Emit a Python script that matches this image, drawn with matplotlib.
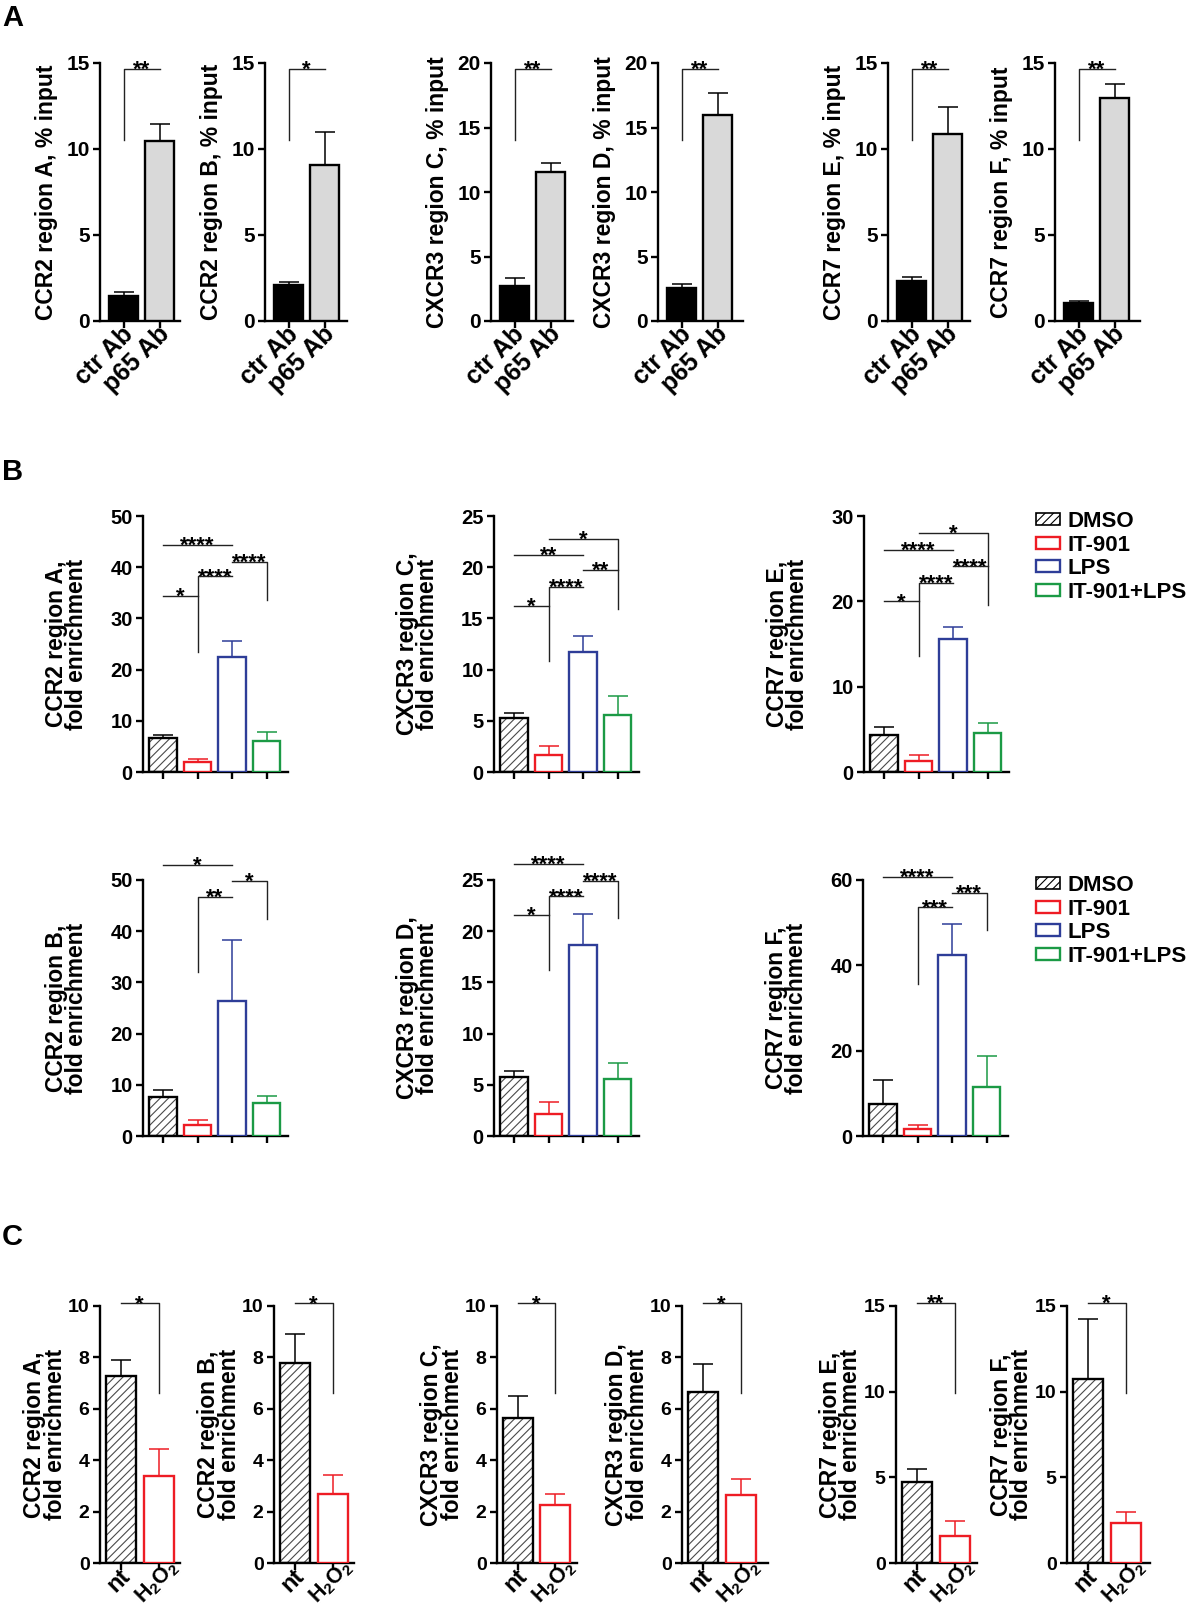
import numpy as np
import matplotlib
matplotlib.use("Agg")
import matplotlib.pyplot as plt
import matplotlib.transforms as mtransforms
from matplotlib.patches import Patch

plt.rcParams['font.family'] = ['Liberation Sans', 'DejaVu Sans']
plt.rcParams['font.weight'] = 'bold'
plt.rcParams['axes.labelweight'] = 'bold'
plt.rcParams['hatch.linewidth'] = 0.8
plt.rcParams['mathtext.fontset'] = 'custom'
plt.rcParams['mathtext.rm'] = 'Liberation Sans:bold'
plt.rcParams['mathtext.default'] = 'rm'

# ---------------- data ----------------
# panel A: ChIP % input
a_groups = ["ctr Ab", "p65 Ab"]
a_labels = ["CCR2 region A, % input", "CCR2 region B, % input",
            "CXCR3 region C, % input", "CXCR3 region D, % input",
            "CCR7 region E, % input", "CCR7 region F, % input"]
a_means = [[1.44, 10.49], [2.08, 9.09], [2.69, 11.53],
           [2.56, 15.98], [2.31, 10.88], [1.05, 12.98]]
a_err = [[0.23, 0.97], [0.19, 1.87], [0.68, 0.75],
         [0.34, 1.66], [0.22, 1.56], [0.12, 0.82]]
a_ymax = [15, 15, 20, 20, 15, 15]
a_stars = ["**", "*", "**", "**", "**", "**"]
a_sig_y = [14.67, 14.67, 19.56, 19.56, 14.67, 14.67]
a_sig_leg = [10.5, 10.5, 14.0, 14.0, 10.5, 10.5]

# panel B: fold enrichment, 4 treatments
b_groups = ["DMSO", "IT-901", "LPS", "IT-901+LPS"]
b_labels = ["CCR2 region A,\nfold enrichment", "CXCR3 region C,\nfold enrichment",
            "CCR7 region E,\nfold enrichment", "CCR2 region B,\nfold enrichment",
            "CXCR3 region D,\nfold enrichment", "CCR7 region F,\nfold enrichment"]
b_means = [[6.63, 1.95, 22.43, 6.11], [5.28, 1.68, 11.69, 5.60],
           [4.30, 1.29, 15.63, 4.53], [7.55, 2.08, 26.37, 6.38],
           [5.72, 2.10, 18.65, 5.52], [7.6, 1.57, 42.5, 11.6]]
b_err = [[0.52, 0.59, 3.17, 1.69], [0.52, 0.88, 1.62, 1.82],
         [0.97, 0.74, 1.37, 1.25], [1.37, 0.98, 11.91, 1.37],
         [0.65, 1.24, 3.06, 1.63], [5.5, 1.02, 7.2, 7.2]]
b_ymax = [50, 25, 30, 50, 25, 60]
b_step = [10, 5, 10, 10, 5, 20]
# (from, to, level, left leg end, right leg end, label)
b_sig = [
    [(0, 1, 34.4, None, None, "*"), (1, 2, 38.2, 23.5, None, "****"),
     (0, 2, 44.3, None, None, "****"), (2, 3, 41.0, None, 33.6, "****")],
    [(0, 1, 16.2, None, None, "*"), (1, 2, 18.1, 10.85, None, "****"),
     (0, 2, 21.2, None, None, "**"), (2, 3, 19.7, None, None, "**"),
     (1, 3, 22.8, None, 15.9, "*")],
    [(0, 1, 20.0, None, None, "*"), (1, 2, 22.2, 13.55, None, "****"),
     (0, 2, 26.0, None, None, "****"), (2, 3, 24.1, None, None, "****"),
     (1, 3, 28.0, None, 19.6, "*")],
    [(0, 2, 53.0, None, None, "*"), (1, 2, 46.7, 32.1, None, "**"),
     (2, 3, 49.9, None, 42.4, "*")],
    [(0, 1, 21.6, None, None, "*"), (1, 2, 23.4, 16.2, None, "****"),
     (0, 2, 26.6, None, None, "****"), (2, 3, 24.9, None, 21.25, "****")],
    [(0, 2, 60.8, None, None, "****"), (1, 2, 53.6, 35.7, None, "***"),
     (2, 3, 57.0, None, 48.2, "***")],
]

# panel C: nt vs H2O2
c_groups = ["nt", "H$_2$O$_2$"]
c_labels = ["CCR2 region A,\nfold enrichment", "CCR2 region B,\nfold enrichment",
            "CXCR3 region C,\nfold enrichment", "CXCR3 region D,\nfold enrichment",
            "CCR7 region E,\nfold enrichment", "CCR7 region F,\nfold enrichment"]
c_means = [[7.27, 3.39], [7.77, 2.70], [5.65, 2.25],
           [6.66, 2.64], [4.74, 1.58], [10.75, 2.32]]
c_err = [[0.63, 1.06], [1.13, 0.74], [0.84, 0.44],
         [1.08, 0.63], [0.74, 0.86], [3.47, 0.64]]
c_ymax = [10, 10, 10, 10, 15, 15]
c_step = [2, 2, 2, 2, 5, 5]
c_stars = ["*", "*", "*", "*", "**", "*"]
c_sig_y = [10.1, 10.1, 10.1, 10.1, 15.16, 15.16]
c_sig_leg = [6.6, 6.6, 6.6, 6.6, 9.9, 9.9]

# ---------------- style ----------------
RED = '#ee1c24'
BLUE = '#2e3d98'
GREEN = '#1b9a45'
HATCH = '#4a4a4a'
LW = 1.7

W, H = 1187, 1614
fig = plt.figure(figsize=(W / 100, H / 100), dpi=100)


def box(l, t, r, b):
    return [l / W, 1 - b / H, (r - l) / W, (b - t) / H]


def style_axes(ax, ymax, step, xlim, ylabel, tick_fs, pad):
    ax.set_ylim(0, ymax)
    ax.set_xlim(*xlim)
    ax.set_yticks(np.arange(0, ymax + step / 2, step))
    ax.spines[['top', 'right']].set_visible(False)
    for s in ['left', 'bottom']:
        ax.spines[s].set_linewidth(LW)
    ax.tick_params(width=LW, length=5, labelsize=tick_fs)
    ax.tick_params(axis='y', pad=2.5)
    ax.set_ylabel(ylabel, fontsize=16.5, linespacing=0.85, labelpad=pad)


def draw_bars(ax, means, errs, kinds):
    for xi, (m, e, k) in enumerate(zip(means, errs, kinds)):
        if k == 'hatch':
            ax.bar(xi, m, 0.8, color='white', edgecolor=HATCH, hatch='////',
                   linewidth=0.1, zorder=2)
            ax.bar(xi, m, 0.8, facecolor='none', edgecolor='black',
                   linewidth=LW, zorder=3)
            ec = 'black'
        elif k == 'black':
            ax.bar(xi, m, 0.8, color='black', edgecolor='black', linewidth=LW, zorder=3)
            ec = 'black'
        elif k == 'gray':
            ax.bar(xi, m, 0.8, color='#d9d9d9', edgecolor='black', linewidth=LW, zorder=3)
            ec = 'black'
        else:
            ax.bar(xi, m, 0.8, color='white', edgecolor=k, linewidth=LW, zorder=3)
            ec = k
        ax.errorbar([xi], [m], yerr=[[0], [e]], fmt='none', ecolor=ec,
                    elinewidth=1.1, capsize=7, capthick=1.1, zorder=2.5)


def bracket(ax, i, j, y, lb, rb, txt, fs=16):
    xs = [i, i, j, j]
    ys = [y if lb is None else lb, y, y, y if rb is None else rb]
    ax.plot(xs, ys, color='#222222', lw=1.0, clip_on=False, zorder=4)
    ax.annotate(txt, ((i + j) / 2, y), xytext=(0, -5), textcoords='offset points',
                ha='center', va='baseline', fontsize=fs, annotation_clip=False)


def rotated_labels(ax, labels, fs):
    ax.set_xticks(range(len(labels)))
    ax.set_xticklabels(labels, rotation=45, ha='right', va='center',
                       rotation_mode='anchor', fontsize=fs)
    ax.tick_params(axis='x', pad=2)


def nudge(label, dx, dy):
    label.set_transform(label.get_transform() +
                        mtransforms.ScaledTranslation(dx / 100, dy / 100, fig.dpi_scale_trans))


# ---------------- panel A ----------------
a_boxes = [(100, 180), (265, 347), (491, 573), (658, 743), (888, 970), (1055, 1140)]
for k, (l, r) in enumerate(a_boxes):
    ax = fig.add_axes(box(l, 63, r, 321))
    draw_bars(ax, a_means[k], a_err[k], ['black', 'gray'])
    style_axes(ax, a_ymax[k], 5, (-0.66, -0.66 + (r - l) / 36), a_labels[k], 15, 6)
    rotated_labels(ax, a_groups, 18)
    for tl in ax.get_xticklabels():
        nudge(tl, 6, 0)
    bracket(ax, 0, 1, a_sig_y[k], a_sig_leg[k], None, a_stars[k])

# ---------------- panel B ----------------
b_boxes = [(143, 516, 288, 772), (494, 516, 639, 772), (864, 516, 1009, 772),
           (143, 880, 288, 1136), (494, 880, 639, 1136), (863, 880, 1008, 1136)]
b_kinds = ['hatch', RED, BLUE, GREEN]
for k, (l, t, r, b) in enumerate(b_boxes):
    ax = fig.add_axes(box(l, t, r, b))
    draw_bars(ax, b_means[k], b_err[k], b_kinds)
    style_axes(ax, b_ymax[k], b_step[k], (-0.58, 3.62), b_labels[k], 14.5, 16)
    ax.set_xticks(range(4))
    ax.set_xticklabels([])
    for s in b_sig[k]:
        bracket(ax, *s)
    if k in (2, 5):
        handles = [Patch(facecolor='white', edgecolor='black', hatch='////', lw=1.2)]
        handles += [Patch(facecolor='white', edgecolor=c, lw=LW) for c in b_kinds[1:]]
        ax.legend(handles, b_groups, loc='upper left',
                  bbox_to_anchor=(1036 / W, 1 - (t - 5) / H),
                  bbox_transform=fig.transFigure, frameon=False, fontsize=16,
                  handlelength=1.1, handleheight=0.45, handletextpad=0.3,
                  labelspacing=0.12, borderpad=0, borderaxespad=0)

# ---------------- panel C ----------------
c_boxes = [(100, 180), (274, 354), (497, 577), (682, 768), (896, 977), (1067, 1150)]
for k, (l, r) in enumerate(c_boxes):
    ax = fig.add_axes(box(l, 1306, r, 1563))
    draw_bars(ax, c_means[k], c_err[k], ['hatch', RED])
    style_axes(ax, c_ymax[k], c_step[k], (-0.56, -0.56 + (r - l) / 37.5), c_labels[k], 14, 1)
    rotated_labels(ax, c_groups, 17)
    nt_lab, h_lab = ax.get_xticklabels()
    nudge(nt_lab, 6, 0)
    h_lab.set_fontsize(15.5)
    nudge(h_lab, 17, 9)
    bracket(ax, 0, 1, c_sig_y[k], None, c_sig_leg[k], c_stars[k])

for letter, y in [("A", 4), ("B", 458), ("C", 1223)]:
    fig.text(2 / W, 1 - y / H, letter, fontsize=21, fontweight='bold', va='top', ha='left')

fig.savefig("out.png", dpi=100)
